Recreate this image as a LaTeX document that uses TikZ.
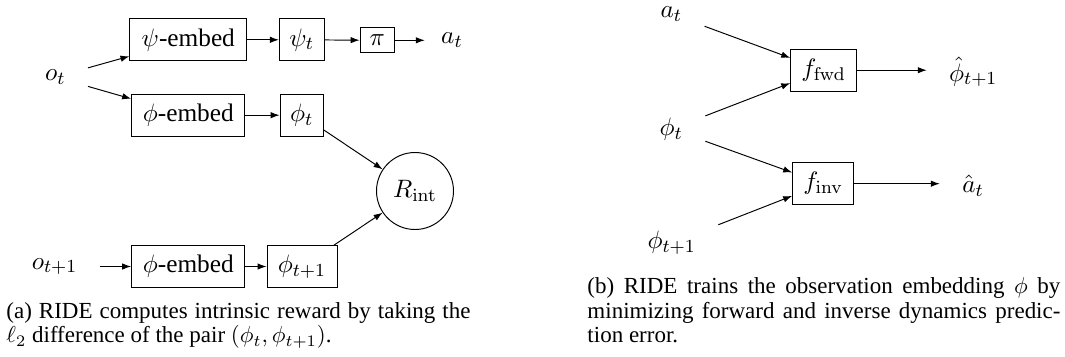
\documentclass[tikz,border=0pt]{standalone}
\usepackage[no-math]{fontspec}
\setmainfont{Liberation Serif}
\usetikzlibrary{arrows.meta}
\newdimen\pxu \pxu=0.4348pt
\begin{document}
\begin{tikzpicture}[x=0.4348pt, y=-0.4348pt,
  box/.style={draw, line width=0.42pt, minimum height=41.7\pxu, inner sep=0pt, font=\fontsize{11}{13}\selectfont},
  lbl/.style={inner xsep=22\pxu, inner ysep=10\pxu, font=\fontsize{11}{13}\selectfont},
  arr/.style={-{Latex[length=3.9pt,width=2.8pt]}, line width=0.42pt},
  captxt/.style={anchor=base west, inner sep=0pt, font=\fontsize{10}{12}\selectfont}]
\useasboundingbox (0,0) rectangle (1065,356);
% ---------- (a) ----------
\node[lbl] (ot) at (55.3,77) {$o_t$};
\node[box, minimum width=116.7\pxu] (psiE) at (188.3,39.8) {$\psi$-embed};
\node[box, minimum width=113.3\pxu] (phiE) at (188.3,115.2) {$\phi$-embed};
\node[box, minimum width=44.7\pxu] (psit) at (301.7,39.8) {$\psi_t$};
\node[box, minimum width=43.3\pxu] (phit) at (301.7,115.2) {$\phi_t$};
\node[box, minimum width=34.3\pxu, minimum height=25\pxu] (pi) at (377.2,40.3) {$\pi$};
\node[lbl, inner xsep=16\pxu] (at1) at (452,40) {$a_t$};
\node[draw, circle, minimum size=77\pxu, inner sep=0pt, line width=0.42pt, font=\fontsize{11}{13}\selectfont] (R) at (415,191) {$R_{\mathrm{int}}$};
\node[lbl] (ot1) at (54.5,266.5) {$o_{t+1}$};
\node[box, minimum width=113.3\pxu] (phiE2) at (188.3,266.5) {$\phi$-embed};
\node[box, minimum width=70\pxu] (phit1) at (302,266.5) {$\phi_{t+1}$};
\draw[arr] (ot) -- (psiE);
\draw[arr] (ot) -- (phiE);
\draw[arr] (psiE) -- (psit);
\draw[arr] (psit) -- (pi);
\draw[arr] (pi) -- (pi -| at1.west);
\draw[arr] (phiE) -- (phit);
\draw[arr] (phit) -- (R);
\draw[arr] (ot1) -- (phiE2);
\draw[arr] (phiE2) -- (phit1);
\draw[arr] (phit1) -- (R);
% ---------- (b) ----------
\node[lbl] (bat) at (671.3,14) {$a_t$};
\node[box, minimum width=66\pxu] (ffwd) at (823.7,70.2) {$f_{\mathrm{fwd}}$};
\node[lbl] (bphit) at (671.3,129) {$\phi_t$};
\node[box, minimum width=61.3\pxu] (finv) at (823.3,183.7) {$f_{\mathrm{inv}}$};
\node[lbl] (bphit1) at (671.7,243) {$\phi_{t+1}$};
\node[lbl] (phihat) at (973.3,72) {$\hat{\phi}_{t+1}$};
\node[lbl] (ahat) at (973,186) {$\hat{a}_t$};
\draw[arr] (bat) -- (ffwd);
\draw[arr] (bphit) -- (ffwd);
\draw[arr] (bphit) -- (finv);
\draw[arr] (bphit1) -- (finv);
\draw[arr] (ffwd) -- (ffwd -| phihat.west);
\draw[arr] (finv) -- (finv -| ahat.west);
% ---------- captions ----------
\node[captxt] (capa1) at (6,318.7) {\makebox[464\pxu][s]{(a) RIDE computes intrinsic reward by taking the}};
\node[captxt] (capa2) at (6,342.7) {$\ell_2$ difference of the pair $(\phi_t, \phi_{t+1})$.};
\node[captxt] (capb1) at (587,293.3) {\makebox[473\pxu][s]{(b) RIDE trains the observation embedding $\phi$ by}};
\node[captxt] (capb2) at (587,318) {\makebox[473\pxu][s]{minimizing forward and inverse dynamics predic-}};
\node[captxt] (capb3) at (587,342.5) {tion error.};
\end{tikzpicture}
\end{document}
